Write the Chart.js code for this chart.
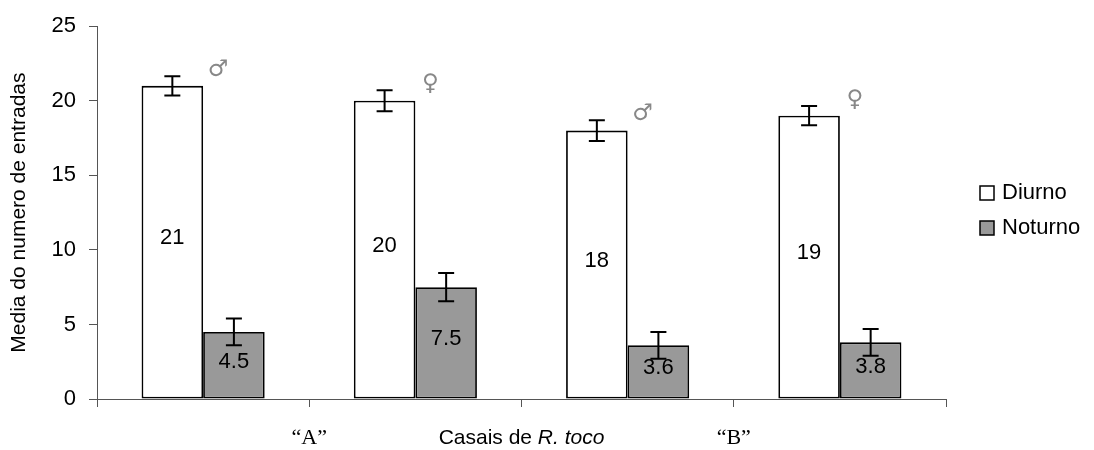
<!DOCTYPE html>
<html>
<head>
<meta charset="utf-8">
<title>Casais de R. toco</title>
<script src="https://cdn.jsdelivr.net/npm/chart.js@4.4.1/dist/chart.umd.min.js"></script>
<style>
  html, body { margin: 0; padding: 0; background: #fff; }
  #chart { display: block; }
</style>
</head>
<body>
<canvas id="chart" width="1094" height="450"></canvas>
<script>
(function () {
  'use strict';

  /* ── Data ─────────────────────────────────────────────── */
  var sexes = ['♂', '♀', '♂', '♀'];
  var pairs = ['“A”', '“B”'];
  var seriesNames = ['Diurno', 'Noturno'];
  var diurno = [21, 20, 18, 19];
  var noturno = [4.5, 7.5, 3.6, 3.8];
  var diurnoErr = [0.65, 0.7, 0.7, 0.65];
  var noturnoErr = [0.9, 0.95, 0.9, 0.9];
  var yTitle = 'Media do numero de entradas';
  var xTitle = ['Casais de ', 'R. toco'];

  var SANS = '"Liberation Sans", Arial, sans-serif';
  var SERIF = '"Liberation Serif", "Times New Roman", serif';
  var AXIS = '#555';

  Chart.defaults.font.family = SANS;
  Chart.defaults.color = '#000';

  /* ── Error bars, value labels, sex symbols, legend, x title ── */
  var annotate = {
    id: 'annotate',
    afterDatasetsDraw: function (chart) {
      var ctx = chart.ctx;
      var ys = chart.scales.y;
      ctx.save();
      chart.data.datasets.forEach(function (ds, di) {
        var meta = chart.getDatasetMeta(di);
        meta.data.forEach(function (bar, i) {
          var v = ds.data[i];
          var e = ds.errors[i];

          ctx.fillStyle = '#000';
          ctx.font = '22px ' + SANS;
          ctx.textAlign = 'center';
          ctx.textBaseline = 'middle';
          ctx.fillText(String(v), bar.x, ys.getPixelForValue(v / 2) - 4);

          var top = ys.getPixelForValue(v + e);
          var bot = ys.getPixelForValue(v - e);
          ctx.strokeStyle = '#000';
          ctx.lineWidth = 2;
          ctx.beginPath();
          ctx.moveTo(bar.x, top); ctx.lineTo(bar.x, bot);
          ctx.moveTo(bar.x - 8, top); ctx.lineTo(bar.x + 8, top);
          ctx.moveTo(bar.x - 8, bot); ctx.lineTo(bar.x + 8, bot);
          ctx.stroke();

          if (di === 0) {
            ctx.fillStyle = '#888';
            ctx.font = '23px "DejaVu Sans", sans-serif';
            ctx.fillText(chart.data.labels[i], bar.x + bar.width / 2 + 15, top - 6);
          }
        });
      });
      ctx.restore();
    },
    afterDraw: function (chart) {
      var ctx = chart.ctx;
      var area = chart.chartArea;
      ctx.save();

      /* legend */
      chart.data.datasets.forEach(function (ds, di) {
        var cy = 193 + di * 35;
        ctx.fillStyle = ds.backgroundColor;
        ctx.fillRect(980, cy - 7, 14, 14);
        ctx.strokeStyle = '#000';
        ctx.lineWidth = 1.5;
        ctx.strokeRect(980, cy - 7, 14, 14);
        ctx.fillStyle = '#000';
        ctx.font = '22px ' + SANS;
        ctx.textAlign = 'left';
        ctx.textBaseline = 'middle';
        ctx.fillText(ds.label, 1002, cy);
      });

      /* x title, species name in italics */
      var plain = '21px ' + SANS;
      var ital = 'italic 21px ' + SANS;
      ctx.font = plain;
      var w1 = ctx.measureText(xTitle[0]).width;
      ctx.font = ital;
      var w2 = ctx.measureText(xTitle[1]).width;
      var x0 = (area.left + area.right) / 2 - (w1 + w2) / 2;
      ctx.textAlign = 'left';
      ctx.textBaseline = 'middle';
      ctx.fillStyle = '#000';
      ctx.font = plain;
      ctx.fillText(xTitle[0], x0, 438);
      ctx.font = ital;
      ctx.fillText(xTitle[1], x0 + w1, 438);
      ctx.restore();
    }
  };

  new Chart(document.getElementById('chart'), {
    type: 'bar',
    data: {
      labels: sexes,
      datasets: [
        {
          label: seriesNames[0],
          data: diurno,
          errors: diurnoErr,
          backgroundColor: '#ffffff',
          borderColor: '#000',
          borderWidth: 1.8,
          borderSkipped: false,
          barPercentage: 1,
          categoryPercentage: 0.58
        },
        {
          label: seriesNames[1],
          data: noturno,
          errors: noturnoErr,
          backgroundColor: '#999999',
          borderColor: '#000',
          borderWidth: 1.8,
          borderSkipped: false,
          barPercentage: 1,
          categoryPercentage: 0.58
        }
      ]
    },
    options: {
      responsive: false,
      animation: false,
      events: [],
      layout: { padding: { top: 20, right: 148, left: 0, bottom: 0 } },
      plugins: {
        legend: { display: false },
        tooltip: { enabled: false }
      },
      scales: {
        x: {
          type: 'category',
          offset: true,
          ticks: { display: false },
          grid: { display: true, drawOnChartArea: false, tickLength: 8, color: AXIS, offset: true },
          border: { display: true, color: AXIS },
          afterFit: function (s) { s.height = 8; }
        },
        x2: {
          type: 'category',
          labels: pairs,
          position: 'bottom',
          offset: true,
          grid: { display: false },
          border: { display: false },
          ticks: { font: { family: SERIF, size: 22 }, padding: 10, color: '#000' },
          afterFit: function (s) { s.height = 43; }
        },
        y: {
          min: 0,
          max: 25,
          ticks: { stepSize: 5, font: { size: 22 }, padding: 13 },
          grid: { display: true, drawOnChartArea: false, tickLength: 8, color: AXIS },
          border: { display: true, color: AXIS },
          title: { display: true, text: yTitle, font: { size: 21 }, padding: { top: 7, bottom: 0 } },
          afterFit: function (s) { s.width = 97; }
        }
      }
    },
    plugins: [annotate]
  });
})();
</script>
</body>
</html>
